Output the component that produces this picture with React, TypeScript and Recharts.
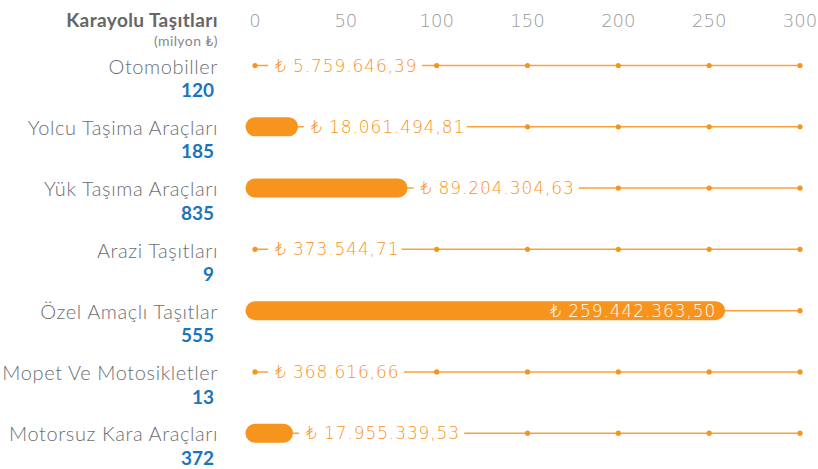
import React from 'react';
import { BarChart, Bar, XAxis, YAxis, LabelList } from 'recharts';

const categories = [
  'Otomobiller',
  'Yolcu Taşima Araçları',
  'Yük Taşıma Araçları',
  'Arazi Taşıtları',
  'Özel Amaçlı Taşıtlar',
  'Mopet Ve Motosikletler',
  'Motorsuz Kara Araçları',
];
const counts = [120, 185, 835, 9, 555, 13, 372];
const amountLabels = [
  '₺ 5.759.646,39',
  '₺ 18.061.494,81',
  '₺ 89.204.304,63',
  '₺ 373.544,71',
  '₺ 259.442.363,50',
  '₺ 368.616,66',
  '₺ 17.955.339,53',
];
// bar lengths as drawn (milyon ₺); tiny amounts show no bar
const barLengths = [0, 23.7, 84.0, 0, 258.8, 0, 20.9];
const xTicks = [0, 50, 100, 150, 200, 250, 300];
const X_MAX = 300;

const ORANGE = '#F7941D';
const LINE = '#F9A23C';
const GRAY = '#6D6E71';
const BLUE = '#1B75BC';
const VALUE_FONT = '"DejaVu Sans", sans-serif';
const LABEL_FONT = 'Lato, "Noto Sans", sans-serif';

const data = categories.map((name, i) => ({
  name,
  count: counts[i],
  label: amountLabels[i],
  bar: barLengths[i],
}));

const BarShape = (p: any) => {
  const { x, y, width, height } = p;
  if (!width || width <= 0) return null;
  const r = height / 2;
  return <rect x={x - r} y={y} width={width + r} height={height} rx={r} ry={r} fill={ORANGE} />;
};

const Background = (p: any) => {
  const { x, y, width, height } = p;
  const cy = y + height / 2;
  return (
    <g>
      <line x1={x} x2={x + width} y1={cy} y2={cy} stroke={LINE} strokeWidth={1.5} />
      {xTicks.map((t) => (
        <circle key={t} cx={x + (width * t) / X_MAX} cy={cy} r={2.6} fill={ORANGE} />
      ))}
    </g>
  );
};

const ValueLabel = (p: any) => {
  const { x, y, width, height, value } = p;
  const cy = y + height / 2;
  const w = width || 0;
  if (w > 300) {
    return (
      <text
        x={x + w - 9}
        y={cy}
        textAnchor="end"
        dominantBaseline="central"
        fill="#fff"
        fontFamily={VALUE_FONT}
        fontWeight={200}
        fontSize={17}
        letterSpacing={0.9}
      >
        {value}
      </text>
    );
  }
  const startX = w > 0 ? x + w + 13 : x + 20;
  return (
    <text
      x={startX}
      y={cy}
      textAnchor="start"
      dominantBaseline="central"
      fill={ORANGE}
      stroke="#fff"
      strokeWidth={14}
      strokeLinejoin="round"
      paintOrder="stroke"
      fontFamily={VALUE_FONT}
      fontWeight={200}
      fontSize={17}
      letterSpacing={0.9}
    >
      {value}
    </text>
  );
};

const YTick = (p: any) => {
  const { x, y, payload } = p;
  const row = data.find((d) => d.name === payload.value);
  return (
    <g>
      <text
        x={x - 29}
        y={y}
        textAnchor="end"
        dominantBaseline="central"
        fill={GRAY}
        fontFamily={LABEL_FONT}
        fontWeight={300}
        fontSize={20}
        letterSpacing={0.6}
      >
        {payload.value}
      </text>
      <text
        x={x - 33}
        y={y + 24}
        textAnchor="end"
        dominantBaseline="central"
        fill={BLUE}
        fontFamily={LABEL_FONT}
        fontWeight={700}
        fontSize={19}
      >
        {row ? row.count : ''}
      </text>
    </g>
  );
};

const XTick = (p: any) => {
  const { x, payload } = p;
  return (
    <text
      x={x}
      y={20}
      textAnchor="middle"
      dominantBaseline="central"
      fill="#999"
      fontFamily={VALUE_FONT}
      fontWeight={200}
      fontSize={18}
    >
      {payload.value}
    </text>
  );
};

export default function App() {
  return (
    <div style={{ position: 'absolute', left: 0, top: 0, width: 818, height: 469, background: '#fff' }}>
      <BarChart
        width={818}
        height={469}
        data={data}
        layout="vertical"
        margin={{ top: 0, right: 18, bottom: 5, left: 0 }}
        barSize={19}
      >
        <XAxis
          type="number"
          orientation="top"
          domain={[0, X_MAX]}
          ticks={xTicks}
          axisLine={false}
          tickLine={false}
          height={35}
          tick={<XTick />}
          interval={0}
        />
        <YAxis
          type="category"
          dataKey="name"
          width={255}
          axisLine={false}
          tickLine={false}
          tick={<YTick />}
          interval={0}
        />
        <Bar dataKey="bar" isAnimationActive={false} shape={<BarShape />} background={<Background />}>
          <LabelList dataKey="label" content={<ValueLabel />} />
        </Bar>
      </BarChart>
      <div
        style={{
          position: 'absolute',
          left: 0,
          top: 10,
          width: 218,
          textAlign: 'right',
          fontFamily: LABEL_FONT,
          color: '#666',
          lineHeight: 1,
        }}
      >
        <div style={{ fontWeight: 700, fontSize: 19, letterSpacing: 0.4 }}>Karayolu Taşıtları</div>
        <div style={{ fontSize: 14, color: '#888', marginTop: 5, letterSpacing: 0.4 }}>(milyon ₺)</div>
      </div>
    </div>
  );
}
